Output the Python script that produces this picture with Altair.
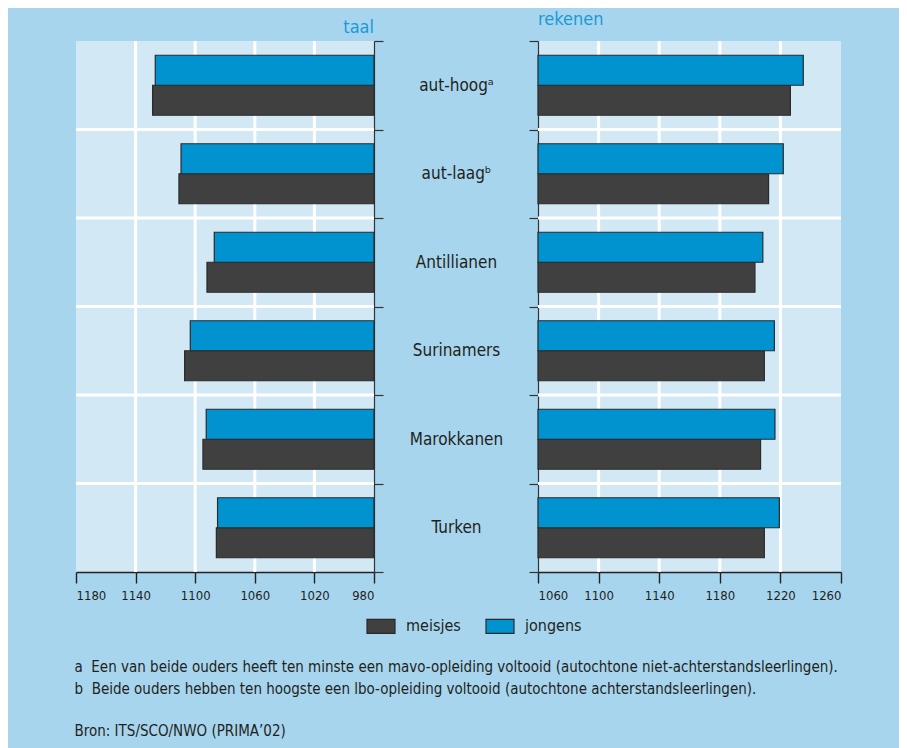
import altair as alt
import pandas as pd

groups = ["aut-hoogᵃ", "aut-laagᵇ", "Antillianen", "Surinamers", "Marokkanen", "Turken"]
sexes = ["meisjes", "jongens"]
taal_meisjes = [1128.6, 1110.9, 1092.1, 1107.1, 1094.8, 1085.8]
taal_jongens = [1126.8, 1109.5, 1087.2, 1103.3, 1092.6, 1085.0]
rekenen_meisjes = [1226.6, 1212.2, 1203.2, 1209.4, 1206.9, 1209.4]
rekenen_jongens = [1235.1, 1221.9, 1208.4, 1216.0, 1216.4, 1219.3]
taal_ticks = [1180, 1140, 1100, 1060, 1020, 980]
rekenen_ticks = [1060, 1100, 1140, 1180, 1220, 1260]
taal_grid = [1140, 1100, 1060, 1020]
rekenen_grid = [1100, 1140, 1180, 1220]
footnotes = [
    "a\u00a0\u00a0Een van beide ouders heeft ten minste een mavo-opleiding voltooid (autochtone niet-achterstandsleerlingen).",
    "b\u00a0\u00a0Beide ouders hebben ten hoogste een lbo-opleiding voltooid (autochtone achterstandsleerlingen).",
]
source = "Bron: ITS/SCO/NWO (PRIMA\u201902)"

DARK = "#404040"
BLUE = "#0093d0"
TXT = "#231f20"
TITLE_BLUE = "#1b9ad6"
FONT = "DejaVu Sans Condensed, Liberation Sans Narrow, Lato, sans-serif"

rows = []
for i, g in enumerate(groups):
    rows.append(dict(groep=g, geslacht="meisjes", taal=taal_meisjes[i], rekenen=rekenen_meisjes[i]))
    rows.append(dict(groep=g, geslacht="jongens", taal=taal_jongens[i], rekenen=rekenen_jongens[i]))
df = pd.DataFrame(rows)
df_hgrid = pd.DataFrame({"groep": groups[1:]})

W_L, W_R, H = 298, 303, 531

color = alt.Color(
    "geslacht:N",
    scale=alt.Scale(domain=sexes, range=[DARK, BLUE]),
    legend=alt.Legend(
        title=None, orient="none", direction="horizontal", legendX=290, legendY=570,
        symbolType="M-1,-0.5H1V0.5H-1Z", symbolSize=784, symbolStrokeColor="#2a2a2a",
        symbolStrokeWidth=1.2, symbolOpacity=1, labelFont=FONT, labelFontSize=16,
        labelColor=TXT, labelOffset=10, columnPadding=22,
    ),
)
yscale = alt.Scale(domain=groups, paddingInner=0, paddingOuter=0)
yoff = alt.YOffset("geslacht:N", sort=["jongens", "meisjes"],
                   scale=alt.Scale(paddingInner=0, paddingOuter=0.475))


def panel(field, domain, reverse, ticks, grid, yaxis, title):
    xscale = alt.Scale(domain=domain, reverse=reverse, nice=False, zero=False)
    xaxis = alt.Axis(values=ticks, format="d", title=None, grid=False, tickSize=11,
                     labelPadding=6, labelFont=FONT, labelFontSize=13, labelColor=TXT,
                     domainColor="#222", tickColor="#222", domainWidth=1.4, tickWidth=1.4)
    vgrid = alt.Chart(pd.DataFrame({field: grid})).mark_rule(color="white", strokeWidth=3).encode(
        x=alt.X(f"{field}:Q", scale=xscale, axis=xaxis)
    )
    hgrid = alt.Chart(df_hgrid).mark_rule(color="white", strokeWidth=3).encode(
        y=alt.Y("groep:N", scale=yscale, bandPosition=0, axis=yaxis)
    )
    bars = alt.Chart(df).mark_bar(stroke="#2a2a2a", strokeWidth=1.2).encode(
        x=alt.X(f"{field}:Q", scale=xscale, axis=xaxis),
        x2=alt.datum(domain[0]),
        y=alt.Y("groep:N", scale=yscale, axis=yaxis),
        yOffset=yoff,
        color=color,
    )
    return alt.layer(vgrid, hgrid, bars).properties(width=W_L if reverse else W_R, height=H, title=title)


left = panel(
    "taal", [980, 1180], True, taal_ticks, taal_grid,
    alt.Axis(orient="right", labels=False, title=None, grid=False, tickBand="extent", tickSize=9,
             domainColor="#333", tickColor="#333", domainWidth=1.2, tickWidth=1.2),
    alt.TitleParams("taal", anchor="end", frame="group", font=FONT, fontSize=18,
                    fontWeight="normal", color=TITLE_BLUE, offset=3),
)
right = panel(
    "rekenen", [1060, 1260], False, rekenen_ticks, rekenen_grid,
    alt.Axis(orient="left", labels=True, title=None, grid=False, tickBand="extent", tickSize=9,
             labelAlign="center", labelPadding=73, labelFont=FONT, labelFontSize=17,
             labelColor=TXT, domainColor="#333", tickColor="#333",
             domainWidth=1.2, tickWidth=1.2),
    alt.TitleParams("rekenen", anchor="start", frame="group", font=FONT, fontSize=18,
                    fontWeight="normal", color=TITLE_BLUE, offset=3),
)

chart = alt.hconcat(left, right, spacing=164, bounds="flush").properties(
    title=alt.TitleParams(footnotes, subtitle=source, orient="bottom", anchor="start", frame="bounds",
                          font=FONT, fontSize=15, fontWeight="normal", color=TXT, lineHeight=22,
                          subtitleFont=FONT, subtitleFontSize=15, subtitleColor=TXT,
                          subtitlePadding=27, offset=24, dx=0),
    padding={"left": 66, "top": 3, "right": 56, "bottom": 10},
).configure(background="#a7d5ee").configure_view(fill="#d3e8f5", stroke=None)

chart.save("out.html", embed_options={"renderer": "svg", "actions": False})
